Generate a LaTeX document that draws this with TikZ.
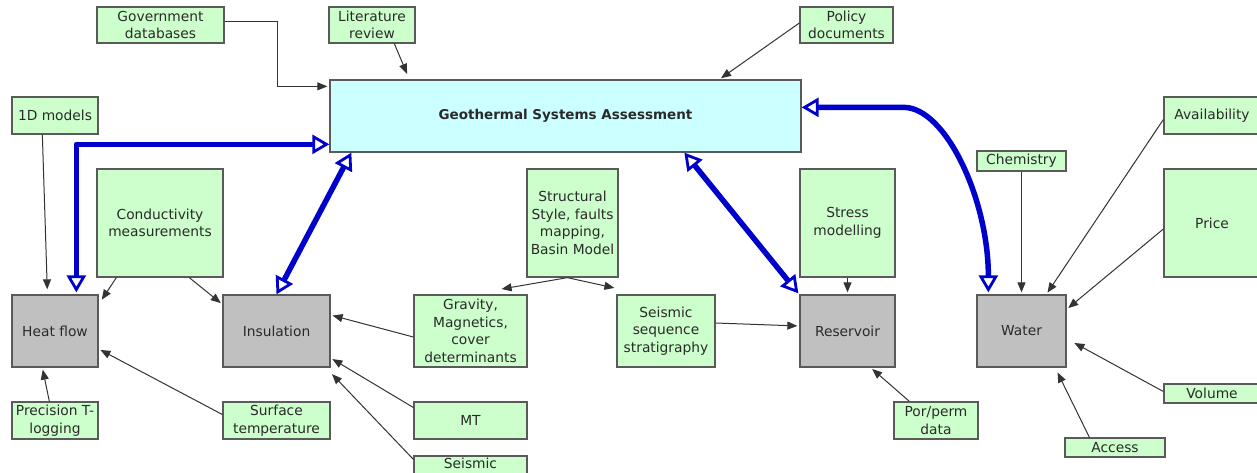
\documentclass[tikz,border=0pt]{standalone}
\usepackage{fontspec}
\setmainfont{DejaVu Sans}
\usetikzlibrary{arrows.meta,calc}
\definecolor{gfill}{HTML}{CCFFCC}
\definecolor{cfill}{HTML}{CCFFFF}
\definecolor{kfill}{HTML}{C0C0C0}
\definecolor{bord}{HTML}{5A5A5A}
\definecolor{txt}{HTML}{2A2A2A}
\definecolor{blu}{HTML}{0000CC}
\definecolor{lin}{HTML}{333333}
\begin{document}
\begin{tikzpicture}[x=1pt,y=-1pt,
  box/.style={draw=bord,line width=1.3pt,inner sep=0pt,align=center,text=txt,
    font=\fontsize{13.8}{17.5}\selectfont},
  gbox/.style={box,fill=gfill},
  kbox/.style={box,fill=kfill},
  cbox/.style={box,fill=cfill},
  conn/.style={draw=lin,line width=1pt,shorten >=2pt,-{Triangle[length=10pt,width=8pt]}},
  bl/.style={draw=blu,line width=5.5pt,line join=round,
    arrows={Triangle[open,length=17pt,width=19pt,line width=2.8pt]-Triangle[open,length=17pt,width=19pt,line width=2.8pt]}}]
\clip (0,0) rectangle (1257,472);
\fill[white] (0,0) rectangle (1257,472);
% nodes
\node[gbox,minimum width=127pt,minimum height=36pt] (gov) at (160.5,25) {Government\\databases};
\node[gbox,minimum width=86pt,minimum height=36pt] (lit) at (372,25) {Literature\\review};
\node[gbox,minimum width=93pt,minimum height=36pt] (pol) at (846.5,25) {Policy\\documents};
\node[cbox,minimum width=471pt,minimum height=72pt,font=\fontsize{13.5}{17.5}\selectfont\bfseries] (gsa) at (565.5,116) {Geothermal Systems Assessment};
\node[gbox,minimum width=86pt,minimum height=37pt] (oned) at (55,115.5) {1D models};
\node[gbox,minimum width=126pt,minimum height=108pt] (cond) at (160,223) {Conductivity\\measurements};
\node[kbox,minimum width=86pt,minimum height=72pt] (hf) at (55,331) {Heat flow};
\node[kbox,minimum width=107pt,minimum height=72pt] (ins) at (276.5,331) {Insulation};
\node[gbox,minimum width=86pt,minimum height=37pt] (prec) at (55,420.5) {Precision T-\\logging};
\node[gbox,minimum width=107pt,minimum height=37pt] (surf) at (276.5,420.5) {Surface\\temperature};
\node[gbox,minimum width=113pt,minimum height=72pt] (grav) at (470.5,331) {Gravity,\\Magnetics,\\cover\\determinants};
\node[gbox,minimum width=91pt,minimum height=108pt] (struct) at (572.5,223) {Structural\\Style, faults\\mapping,\\Basin Model};
\node[gbox,minimum width=98pt,minimum height=72pt] (seis) at (666,331) {Seismic\\sequence\\stratigraphy};
\node[gbox,minimum width=113pt,minimum height=37pt] (mt) at (470.5,420.5) {MT};
\node[gbox,minimum width=113pt,minimum height=37pt] (seismicb) at (470.5,474.5) {Seismic\\\strut};
\node[kbox,minimum width=95pt,minimum height=72pt] (res) at (847.5,331) {Reservoir};
\node[gbox,minimum width=95pt,minimum height=108pt] (stress) at (847.5,223) {Stress\\modelling};
\node[kbox,minimum width=89pt,minimum height=72pt] (water) at (1021.5,331) {Water};
\node[gbox,minimum width=89pt,minimum height=20pt] (chem) at (1021.5,161) {Chemistry};
\node[gbox,minimum width=96pt,minimum height=37pt] (avail) at (1212,115.5) {Availability};
\node[gbox,minimum width=96pt,minimum height=108pt] (price) at (1212,223) {Price};
\node[gbox,minimum width=96pt,minimum height=19pt] (volume) at (1212,393.5) {Volume};
\node[gbox,minimum width=100pt,minimum height=19pt] (access) at (1115,447.5) {Access};
\node[gbox,minimum width=84pt,minimum height=37pt] (por) at (936,420.5) {Por/perm\\data};
% thin connectors
\draw[conn] ($(gov.east)+(0,-4)$) -- ++(53,0) |- ($(gsa.north west)+(0,7)$);
\draw[conn,shorten >=6pt] ($(lit.south west)+(66,0)$) -- ($(gsa.north west)+(80,0)$);
\draw[conn] ($(pol.west)+(0,-2)$) -- ($(gsa.north west)+(390,0)$);
\draw[conn] ($(oned.south west)+(31,0)$) -- ($(hf.north west)+(36,-3)$);
\draw[conn] ($(cond.south west)+(20,0)$) -- ($(hf.north east)+(2,7)$);
\draw[conn] ($(cond.south west)+(93,0)$) -- ($(ins.north west)+(0,10)$);
\draw[conn] ($(prec.north west)+(38,0)$) -- ($(hf.south west)+(31,0)$);
\draw[conn] ($(surf.west)+(0,-6)$) -- ($(hf.east)+(0,18)$);
\draw[conn] ($(grav.west)+(0,6)$) -- ($(ins.east)+(0,-16)$);
\draw[conn] ($(mt.west)+(0,-13)$) -- ($(ins.east)+(0,27)$);
\draw[conn] ($(seismicb.north west)+(0,4)$) -- ($(ins.south east)+(0,5)$);
\draw[conn] ($(struct.south west)+(41,0)$) -- ($(grav.north east)+(-28,-5)$);
\draw[conn] ($(struct.south west)+(41,0)$) -- ($(seis.north west)+(0,-6)$);
\draw[conn] ($(seis.east)+(0,-8)$) -- ($(res.west)+(0,-5)$);
\draw[conn] (stress.south) -- (res.north);
\draw[conn] ($(por.north west)+(16,0)$) -- ($(res.south east)+(-25,0)$);
\draw[conn] (chem.south) -- (water.north);
\draw[conn] ($(avail.west)+(0,4)$) -- ($(water.north west)+(70,0)$);
\draw[conn] ($(price.west)+(0,6)$) -- ($(water.north east)+(0,15)$);
\draw[conn] ($(volume.west)+(0,-2)$) -- ($(water.east)+(6,11)$);
\draw[conn] ($(access.north west)+(25,0)$) -- ($(water.south east)+(-10,3)$);
% blue double arrows
\draw[bl] ($(hf.north west)+(65,-2)$) |- ($(gsa.north west)+(0,65)$);
\draw[bl] (ins.north) -- ($(gsa.south west)+(22,0)$);
\draw[bl] ($(res.north west)+(-1,-1)$) -- ($(gsa.south west)+(355,0)$);
\draw[bl] ($(gsa.north east)+(0,28)$) -- ++(102,0) .. controls +(42,0) and +(0,-93) .. ($(water.north west)+(12,-2)$);
\end{tikzpicture}
\end{document}
